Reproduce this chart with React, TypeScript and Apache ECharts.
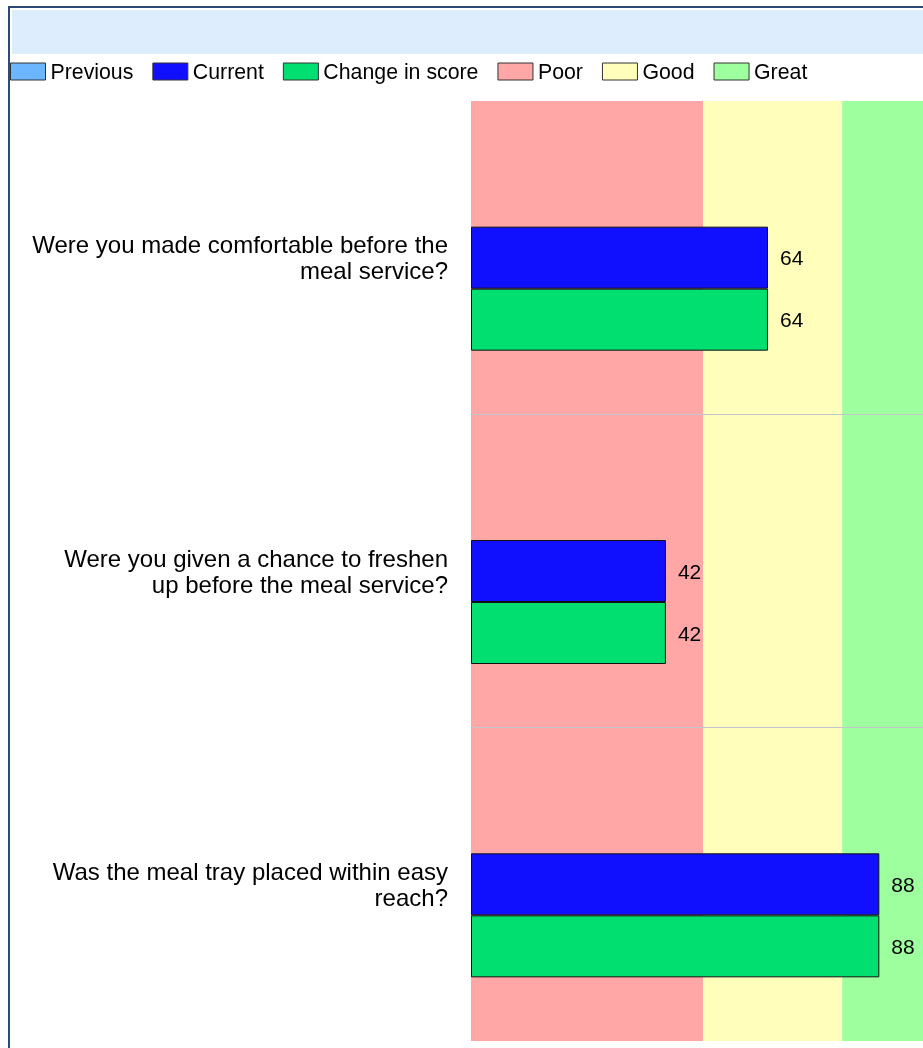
import React, { useEffect, useRef } from "react";
import * as echarts from "echarts";

const categories = [
  "Were you made comfortable before the\nmeal service?",
  "Were you given a chance to freshen\nup before the meal service?",
  "Was the meal tray placed within easy\nreach?",
];
const previousValues: (number | null)[] = [null, null, null];
const currentValues = [64, 42, 88];
const changeValues = [64, 42, 88];
const bandNames = ["Poor", "Good", "Great"];
const bandRanges: [number, number][] = [
  [0, 50],
  [50, 80],
  [80, 100],
];

const COLORS = {
  previous: "#6cb6ff",
  current: "#1010ff",
  change: "#00df6f",
  poor: "#ffa6a6",
  good: "#ffffbb",
  great: "#9eff9e",
};
const bandColors = [COLORS.poor, COLORS.good, COLORS.great];

export default function App() {
  const ref = useRef<HTMLDivElement>(null);
  useEffect(() => {
    document.body.style.overflow = "hidden";
    const chart = echarts.init(ref.current!, undefined, { renderer: "svg" });
    const font = "'Liberation Sans', Arial, sans-serif";
    const barLabel = {
      show: true,
      position: "right",
      distance: 12,
      color: "#000",
      fontSize: 21,
      fontFamily: font,
      formatter: (p: any) => (p.value == null ? "" : String(p.value)),
    };
    const option: any = {
      animation: false,
      textStyle: { fontFamily: font },
      graphic: [
        {
          type: "rect",
          shape: { x: 12, y: 10, width: 960, height: 44 },
          style: { fill: "#ddedfd" },
          silent: true,
        },
        {
          type: "line",
          shape: { x1: 8, y1: 7, x2: 980, y2: 7 },
          style: { stroke: "#2b4a78", lineWidth: 2 },
          silent: true,
        },
        {
          type: "line",
          shape: { x1: 9, y1: 6, x2: 9, y2: 1060 },
          style: { stroke: "#2b4a78", lineWidth: 2 },
          silent: true,
        },
      ],
      legend: {
        left: 10,
        top: 61,
        padding: 0,
        icon: "rect",
        itemWidth: 35,
        itemHeight: 17,
        itemGap: 19,
        textStyle: { fontSize: 21.3, color: "#000", fontFamily: font },
        itemStyle: { borderColor: "#333", borderWidth: 1 },
        data: ["Previous", "Current", "Change in score", ...bandNames],
      },
      grid: { left: 471, top: 101, width: 464, height: 940, containLabel: false },
      xAxis: {
        type: "value",
        min: 0,
        max: 100,
        show: false,
        splitLine: { show: false },
      },
      yAxis: {
        type: "category",
        inverse: true,
        data: categories,
        z: 3,
        axisLine: { show: false },
        axisTick: { show: false },
        axisLabel: {
          fontSize: 24,
          lineHeight: 26,
          color: "#000",
          margin: 23,
          fontFamily: font,
          align: "right",
        },
        splitLine: {
          show: true,
          showMinLine: false,
          showMaxLine: false,
          lineStyle: { color: "#c4c4cc", width: 1 },
        },
      },
      series: [
        {
          name: "Previous",
          type: "bar",
          data: previousValues,
          barWidth: 62,
          barGap: "0%",
          itemStyle: { color: COLORS.previous, borderColor: "#111", borderWidth: 1 },
          label: barLabel,
          markArea: {
            silent: true,
            data: bandRanges.map((r, i) => [
              { xAxis: r[0], itemStyle: { color: bandColors[i] } },
              { xAxis: r[1] },
            ]),
          },
        },
        {
          name: "Current",
          type: "bar",
          data: currentValues,
          barWidth: 62,
          barGap: "0%",
          itemStyle: { color: COLORS.current, borderColor: "#111", borderWidth: 1 },
          label: barLabel,
        },
        {
          name: "Change in score",
          type: "bar",
          data: changeValues,
          barWidth: 62,
          barGap: "0%",
          itemStyle: { color: COLORS.change, borderColor: "#111", borderWidth: 1 },
          label: barLabel,
        },
        ...bandNames.map((n, i) => ({
          name: n,
          type: "line",
          data: [],
          itemStyle: { color: bandColors[i] },
          lineStyle: { color: bandColors[i] },
        })),
      ],
    };
    chart.setOption(option);
    return () => chart.dispose();
  }, []);
  return (
    <div
      ref={ref}
      style={{ position: "fixed", left: 0, top: 0, width: 950, height: 1048 }}
    />
  );
}
